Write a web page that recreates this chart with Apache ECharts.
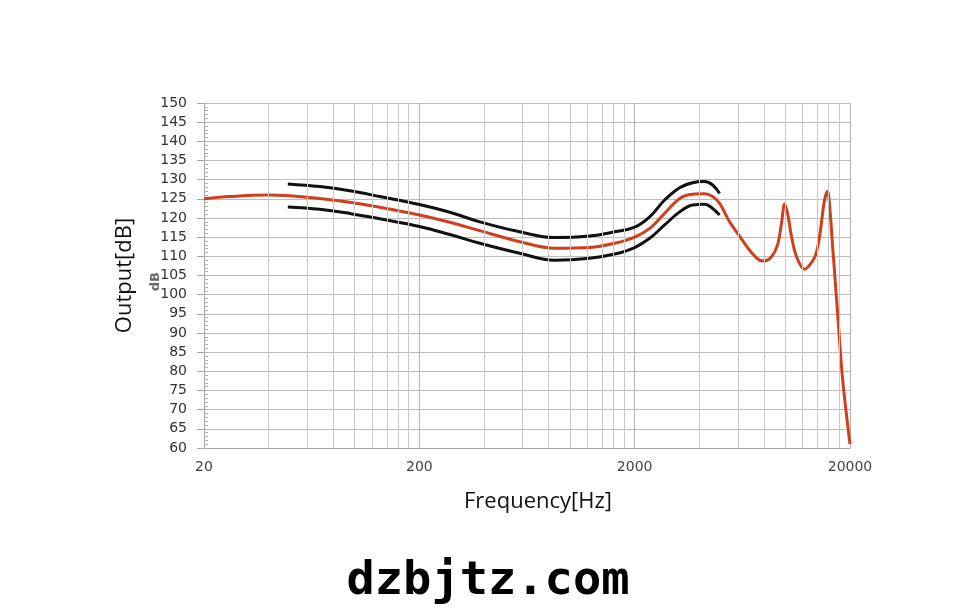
<!DOCTYPE html>
<html>
<head>
<meta charset="utf-8">
<script src="https://cdn.jsdelivr.net/npm/echarts@6/dist/echarts.min.js"></script>
<style>html,body{margin:0;padding:0;background:#fff}#c{width:976px;height:613px}</style>
</head>
<body>
<div id="c"></div>
<script>
// Frequencies in Hz, levels in dB
const xTickLabels = ['20', '200', '2000', '20000'];
const freqRed = [20, 26.4, 39.6, 50, 69, 95, 131, 200, 277, 382, 585, 851, 1237, 1616, 2000, 2348, 2756, 3235, 3716, 4224, 4602, 4960, 5518, 6140, 6836, 7604, 8022, 8646, 9218, 9620, 9932, 10258, 10706, 11292, 12300, 12972, 13834, 14440, 15232, 15730, 16070, 16590, 17500, 18460, 20000];
const dbRed   = [125, 125.6, 126, 125.8, 125.1, 124.1, 122.8, 120.8, 118.9, 116.7, 113.8, 112.1, 112.3, 113.4, 115, 117.3, 121.2, 125.1, 126.2, 126.3, 125.6, 123.8, 119, 115.3, 111.6, 109, 108.8, 109.9, 113, 118.7, 123.6, 121.2, 115.1, 109.9, 106.6, 107.7, 110.3, 115.1, 124.7, 126.9, 123.4, 113, 95.5, 78.3, 61];
const freqLimits = [49, 69, 95, 131, 200, 277, 382, 585, 851, 1237, 1616, 2000, 2348, 2756, 3235, 3716, 4224, 4602, 4960];
const dbUpper = [128.9, 128.2, 127.1, 125.6, 123.5, 121.5, 119, 116.4, 114.9, 115.3, 116.4, 117.6, 120.3, 124.7, 127.9, 129.2, 129.5, 128.6, 126.4];
const dbLower = [122.9, 122.3, 121.2, 119.8, 117.8, 115.7, 113.4, 110.8, 109, 109.5, 110.6, 112.3, 114.7, 118.2, 121.6, 123.4, 123.6, 122.5, 120.8];
const minorMultipliers = [2, 3, 4, 5, 6, 7, 8, 9];
const decades = [0, 1, 2];

const toX = f => Math.log10(f / 20);
const pairs = (fs, ds) => fs.map((f, i) => [toX(f), ds[i]]);

const minorLines = [];
decades.forEach(d => minorMultipliers.forEach(m => minorLines.push({ xAxis: d + Math.log10(m) })));

const chart = echarts.init(document.getElementById('c'));
chart.setOption({
  animation: false,
  backgroundColor: '#ffffff',
  grid: { left: 204, top: 103, width: 646, height: 345, containLabel: false },
  xAxis: {
    type: 'value', min: 0, max: 3, interval: 1,
    name: 'Frequency[Hz]', nameLocation: 'middle', nameGap: 43,
    nameTextStyle: { fontFamily: 'Open Sans', fontSize: 22, color: '#111', padding: [0, 0, 0, 22] },
    axisLine: { show: true, lineStyle: { color: '#a6a6a6', width: 1 } },
    axisTick: { show: false },
    axisLabel: { margin: 12, fontFamily: 'DejaVu Sans', fontSize: 14, color: '#444',
      formatter: v => xTickLabels[Math.round(v)] },
    splitLine: { show: true, lineStyle: { color: '#b4b4b4', width: 1 } }
  },
  yAxis: [{
    type: 'value', min: 60, max: 150, interval: 5,
    name: 'Output[dB]', nameLocation: 'middle', nameGap: 68, nameRotate: 90,
    nameTextStyle: { fontFamily: 'Open Sans', fontSize: 22, color: '#111' },
    axisLine: { show: true, lineStyle: { color: '#a6a6a6', width: 1 } },
    axisTick: { show: true, length: 7, lineStyle: { color: '#a6a6a6' } },
    axisLabel: { margin: 17, fontFamily: 'DejaVu Sans', fontSize: 14, color: '#333' },
    splitLine: { show: true, lineStyle: { color: '#bcbcbc', width: 1 } }
  }, {
    type: 'value', min: 60, max: 150, interval: 1, position: 'left',
    axisLine: { show: false },
    axisTick: { show: true, inside: true, length: 4, lineStyle: { color: '#b0b0b0' } },
    axisLabel: { show: false },
    splitLine: { show: false }
  }],
  graphic: [
    { type: 'text', left: 149, top: 272, rotation: Math.PI / 2,
      style: { text: 'dB', font: 'bold 13px "DejaVu Sans"', fill: '#444', opacity: 0.8 } },
    { type: 'text', left: 'center', top: 558,
      style: { text: 'dzbjtz.com', font: 'bold 47px "DejaVu Sans Mono"', fill: '#000' } }
  ],
  series: [
    {
      type: 'line', data: [], silent: true,
      markLine: { silent: true, symbol: 'none', label: { show: false }, animation: false,
        lineStyle: { color: '#c8c8c8', width: 1, type: 'solid' }, data: minorLines }
    },
    { type: 'line', data: pairs(freqLimits, dbUpper), smooth: 0.4, showSymbol: false,
      lineStyle: { color: '#111', width: 3 }, z: 3 },
    { type: 'line', data: pairs(freqLimits, dbLower), smooth: 0.4, showSymbol: false,
      lineStyle: { color: '#111', width: 3 }, z: 3 },
    { type: 'line', data: pairs(freqRed, dbRed), smooth: 0.35, showSymbol: false,
      lineStyle: { color: '#d0401c', width: 3 }, z: 4 }
  ]
});
</script>
</body>
</html>
